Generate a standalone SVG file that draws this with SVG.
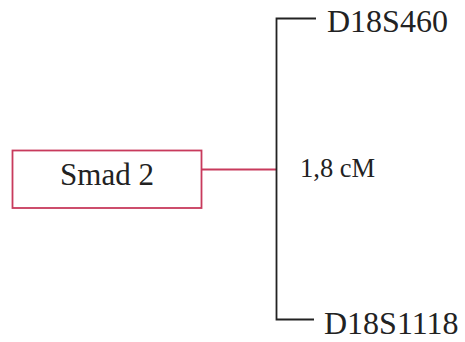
<svg xmlns="http://www.w3.org/2000/svg" width="465" height="342" viewBox="0 0 465 342">
<style>
.t{font-family:"Liberation Serif","Times New Roman",serif;fill:#222;}
.k{stroke:#222;stroke-width:1.8;fill:none;}
.r{stroke:#c83a5c;stroke-width:1.8;fill:none;}
</style>
<rect width="465" height="342" fill="#fff"/>
<g id="connectors">
<path class="r" d="M201.5,169.5 H276"/>
<path class="k" d="M316,18.5 H276.5 V319.5 H314"/>
</g>
<g id="smad2">
<rect x="12.5" y="150.5" width="189" height="57.5" fill="#fff" class="r"/>
<text class="t" x="107" y="185" font-size="31" text-anchor="middle">Smad 2</text>
</g>
<g id="d18s460">
<text class="t" x="327" y="32" font-size="32">D18S460</text>
</g>
<g id="d18s1118">
<text class="t" x="324" y="334" font-size="32">D18S1118</text>
</g>
<g id="distance">
<text class="t" x="300" y="177" font-size="26.5">1,8 cM</text>
</g>
</svg>
